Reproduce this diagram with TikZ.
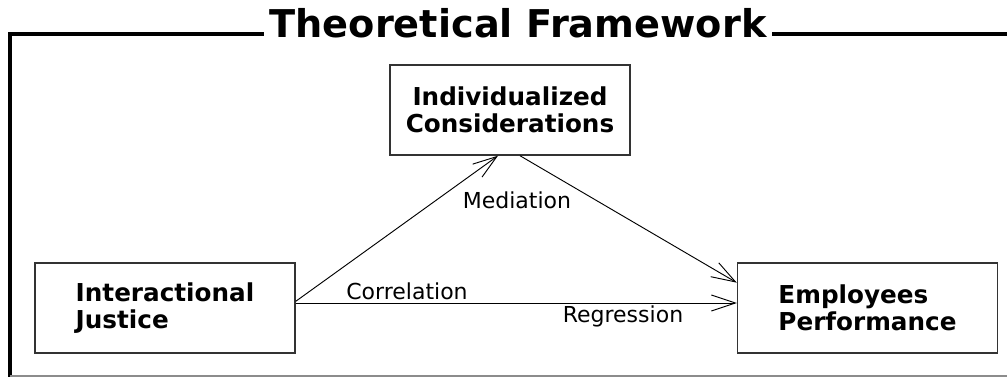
\documentclass[tikz,border=0pt]{standalone}
\usepackage{fontspec}
\setmainfont{DejaVu Sans}
\usetikzlibrary{arrows.meta}
\tikzset{%
	block/.style    = {draw=black!80, line width=1.1pt, rectangle, minimum height = 67.5pt,
		minimum width = 195pt, font=\fontsize{18.5}{20.5}\selectfont\bfseries, inner sep=0pt},
	lbl/.style      = {font=\fontsize{16.5}{18}\selectfont, inner sep=0pt}, % link label
	link/.style     = {line width=0.7pt, -{Straight Barb[length=18pt,width=12pt,line width=0.7pt]}}
}

\begin{document}
\begin{tikzpicture}[x=0.75pt,y=-0.75pt]
	\useasboundingbox (0,0) rectangle (1007,377);
	
	% frame
	\draw[line width=3pt] (1007,34) -- (10,34) -- (10,377);
	\draw[black!45, line width=1pt] (10,376) -- (1007,376);
	\node[fill=white, inner xsep=4pt, inner ysep=0pt, anchor=base, font=\fontsize{28.7}{30}\selectfont\bfseries] at (518,38) (title) {Theoretical Framework};
	
	\node[block][align=left] at (165,308) (ij) {Interactional\\Justice};
	\node[block][align=center, minimum width=180pt] at (510,110) (ic) {Individualized\\Considerations};
	\node[block][align=left] at (867.5,308) (ep) {Employees\\Performance};
	
	\node[lbl] at (517,200) (med) {Mediation};
	\node[lbl] at (407,291) (cor) {Correlation};
	\node[lbl] at (623,316) (reg) {Regression};
	
	\draw[link] ([yshift=5pt]ij.east) -- ([xshift=-9pt]ic.south);
	\draw[link] ([xshift=7.5pt]ic.south) -- ([yshift=19pt]ep.west);
	\draw[link] ([yshift=3.75pt]ij.east) -- ([yshift=3.75pt]ep.west);
	
\end{tikzpicture}
\end{document}
